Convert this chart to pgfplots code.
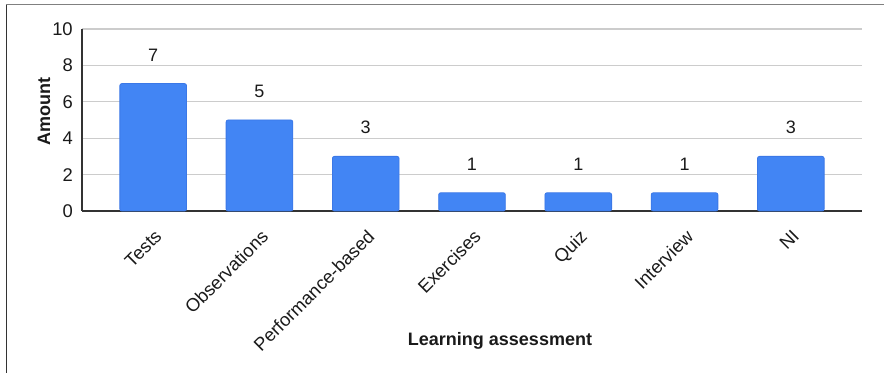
\documentclass[border=0pt]{standalone}
\usepackage{pgfplots}
\pgfplotsset{compat=1.18}
\usepackage{fontspec}
\setmainfont{Liberation Sans}
\definecolor{barblue}{HTML}{4285F4}
\definecolor{baredge}{HTML}{3B78E7}
\definecolor{gridc}{HTML}{CCCCCC}
\definecolor{axc}{HTML}{333333}
\definecolor{txt}{HTML}{1A1A1A}
\begin{document}
\fontsize{13.5}{16}\selectfont
\begin{tikzpicture}
\begin{axis}[
 scale only axis,
 width=585pt, height=136.5pt,
 xmin=-0.67, xmax=6.67, ymin=0, ymax=10,
 ytick={0,2,4,6,8,10},
 xtick={0,1,2,3,4,5,6},
 xticklabels={Tests,Observations,Performance-based,Exercises,Quiz,Interview,NI},
 axis x line*=bottom, axis y line*=left,
 x axis line style={axc, line width=1.5pt, -},
 y axis line style={axc, line width=1.2pt, -},
 ymajorgrids, grid style={gridc, line width=1pt},
 major tick length=0pt,
 tick style={draw=none},
 ticklabel style={font=\fontsize{13.8}{16}\selectfont, text=txt},
 yticklabel style={inner sep=0pt, anchor=east, xshift=-6.75pt},
 xticklabel style={inner sep=0pt, rotate=45, anchor=north east, xshift=-9pt, yshift=-9.5pt},
 /pgf/number format/assume math mode=true,
 ybar, bar width=50pt,
 nodes near coords,
 every node near coord/.append style={font=\fontsize{13.5}{16}\selectfont, text=txt, inner sep=0pt, anchor=south, yshift=16.5pt},
 clip=false,
]
\addplot[fill=barblue, draw=baredge, line width=0.6pt, rounded corners=1.5pt] coordinates {
 (0,7) (1,5) (2,3) (3,1) (4,1) (5,1) (6,3)
};
\coordinate (O) at (rel axis cs:0,0);
\end{axis}
\draw[color=axc, line width=1.1pt] ([shift={(-56.6pt,-121.5pt)}]O) -- ([shift={(-56.6pt,154.9pt)}]O);
\draw[color=gray, line width=1.1pt] ([shift={(-57pt,154.9pt)}]O) -- ([shift={(601.5pt,154.9pt)}]O);
\node[font=\bfseries\fontsize{13.5}{16}\selectfont, text=txt, rotate=90] at ([shift={(-28.5pt,74.25pt)}]O) {Amount};
\node[font=\bfseries\fontsize{13.5}{16}\selectfont, text=txt] at ([shift={(313.5pt,-97.5pt)}]O) {Learning assessment};
\pgfresetboundingbox
\useasboundingbox ([shift={(-61.5pt,-121.5pt)}]O) rectangle ([shift={(601.5pt,158.25pt)}]O);
\end{tikzpicture}
\end{document}
